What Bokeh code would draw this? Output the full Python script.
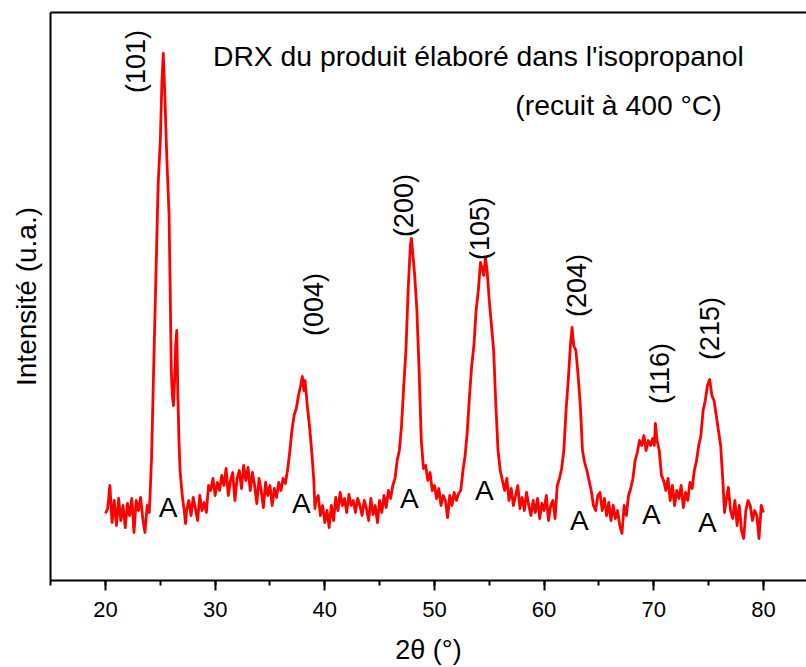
import numpy as np
from bokeh.plotting import figure
from bokeh.models import Range1d, LinearAxis, FixedTicker, SingleIntervalTicker
from bokeh.core.properties import value
from bokeh.embed import file_html
from bokeh.resources import INLINE

# ---- data (2theta in degrees, intensity in arbitrary units) ----
two_theta = [
    20.0, 20.2, 20.4, 20.6, 20.8, 21.0, 21.2, 21.4, 21.6, 21.8, 22.0, 22.2, 22.4, 22.6, 22.8,
    23.0, 23.2, 23.4, 23.6, 23.8, 24.0, 24.2, 24.4, 24.6, 24.8, 25.0, 25.15, 25.27, 25.4, 25.6,
    25.8, 25.9, 26.0, 26.1, 26.2, 26.3, 26.4, 26.5, 26.6, 26.7, 26.8, 27.0, 27.2, 27.3, 27.4,
    27.6, 27.8, 28.0, 28.2, 28.4, 28.6, 28.8, 29.0, 29.2, 29.4, 29.6, 29.8, 30.0, 30.2, 30.4,
    30.6, 30.8, 31.0, 31.2, 31.4, 31.6, 31.8, 32.0, 32.2, 32.4, 32.6, 32.8, 33.0, 33.2, 33.4,
    33.6, 33.8, 34.0, 34.2, 34.4, 34.6, 34.8, 35.0, 35.2, 35.4, 35.6, 35.8, 36.0, 36.2, 36.4,
    36.6, 36.8, 37.0, 37.2, 37.4, 37.6, 37.8, 37.95, 38.1, 38.2, 38.4, 38.6, 38.8, 39.0, 39.1,
    39.2, 39.4, 39.6, 39.8, 40.0, 40.2, 40.4, 40.6, 40.8, 41.0, 41.2, 41.4, 41.6, 41.8, 42.0,
    42.2, 42.4, 42.6, 42.8, 43.0, 43.2, 43.4, 43.6, 43.8, 44.0, 44.2, 44.4, 44.6, 44.8, 45.0,
    45.2, 45.4, 45.6, 45.8, 46.0, 46.2, 46.4, 46.6, 46.8, 47.0, 47.2, 47.4, 47.6, 47.8, 47.9,
    48.0, 48.2, 48.4, 48.6, 48.8, 49.0, 49.2, 49.4, 49.6, 49.8, 50.0, 50.2, 50.4, 50.6, 50.8,
    51.0, 51.2, 51.4, 51.6, 51.8, 52.0, 52.2, 52.4, 52.6, 52.8, 53.0, 53.2, 53.4, 53.6, 53.8,
    54.0, 54.2, 54.4, 54.5, 54.65, 54.8, 55.0, 55.2, 55.4, 55.6, 55.8, 56.0, 56.2, 56.4, 56.6,
    56.8, 57.0, 57.2, 57.4, 57.6, 57.8, 58.0, 58.2, 58.4, 58.6, 58.8, 59.0, 59.2, 59.4, 59.6,
    59.8, 60.0, 60.2, 60.4, 60.6, 60.8, 61.0, 61.2, 61.4, 61.6, 61.8, 62.0, 62.2, 62.4, 62.55,
    62.7, 62.9, 63.1, 63.3, 63.5, 63.7, 63.9, 64.1, 64.3, 64.5, 64.7, 64.9, 65.1, 65.3, 65.5,
    65.7, 65.9, 66.1, 66.3, 66.5, 66.7, 66.9, 67.1, 67.3, 67.5, 67.7, 67.9, 68.1, 68.3, 68.5,
    68.7, 68.9, 69.1, 69.3, 69.5, 69.7, 69.9, 70.05, 70.15, 70.3, 70.5, 70.7, 70.9, 71.1, 71.3,
    71.5, 71.7, 71.9, 72.1, 72.3, 72.5, 72.7, 72.9, 73.1, 73.3, 73.5, 73.7, 73.9, 74.1, 74.3,
    74.5, 74.7, 74.9, 75.1, 75.3, 75.5, 75.7, 75.9, 76.1, 76.3, 76.45, 76.6, 76.8, 77.0, 77.2,
    77.4, 77.6, 77.8, 78.0, 78.2, 78.4, 78.6, 78.8, 79.0, 79.2, 79.4, 79.6, 79.8, 80.0,
]
intensity = [
    67, 72, 95, 58, 80, 55, 82, 60, 75, 53, 77, 65, 82, 48, 80,
    70, 83, 62, 48, 75, 68, 122, 215, 305, 395, 440, 500, 527, 490, 420,
    365, 290, 210, 185, 175, 200, 235, 250, 185, 140, 110, 85, 68, 57, 70,
    80, 65, 83, 72, 60, 85, 70, 78, 68, 95, 90, 102, 85, 98, 90,
    105, 95, 112, 85, 100, 108, 80, 102, 110, 92, 115, 100, 113, 90, 108,
    95, 77, 102, 90, 73, 98, 85, 95, 75, 92, 83, 98, 90, 102, 97,
    110, 128, 150, 165, 172, 185, 195, 204, 190, 200, 175, 155, 130, 100, 72,
    80, 85, 65, 75, 58, 70, 53, 75, 60, 83, 70, 88, 75, 82, 68,
    86, 75, 80, 68, 82, 75, 65, 80, 72, 60, 82, 66, 75, 58, 80,
    68, 85, 73, 90, 82, 95, 102, 120, 130, 155, 195, 230, 290, 335, 342,
    330, 305, 270, 210, 140, 112, 115, 100, 108, 90, 95, 82, 92, 75, 85,
    80, 63, 85, 75, 88, 80, 87, 90, 110, 125, 150, 185, 215, 235, 270,
    290, 318, 310, 305, 323, 310, 280, 255, 230, 175, 130, 110, 100, 90, 102,
    80, 92, 75, 85, 95, 72, 83, 70, 88, 75, 65, 80, 68, 82, 62,
    77, 70, 85, 60, 75, 80, 62, 95, 102, 112, 130, 170, 200, 235, 253,
    235, 230, 205, 175, 130, 118, 110, 100, 90, 75, 70, 85, 88, 70, 82,
    65, 78, 60, 75, 62, 70, 55, 47, 75, 65, 85, 92, 102, 120, 128,
    140, 135, 145, 130, 140, 135, 142, 135, 157, 140, 130, 105, 100, 90, 102,
    80, 95, 75, 90, 82, 95, 73, 88, 80, 98, 92, 110, 120, 135, 145,
    170, 180, 195, 201, 185, 180, 165, 150, 135, 100, 68, 80, 93, 70, 62,
    80, 55, 75, 50, 42, 70, 80, 75, 60, 70, 65, 42, 75, 68,
]

x_tick_values = [20, 30, 40, 50, 60, 70, 80]

peak_hkl = ["(101)", "(004)", "(200)", "(105)", "(204)", "(116)", "(215)"]
peak_label_x = [22.80, 38.97, 47.26, 54.19, 63.04, 70.61, 75.17]
peak_label_y = [519, 276, 375, 352, 295, 207, 252]

anatase_text = ["A", "A", "A", "A", "A", "A", "A"]
anatase_x = [25.70, 37.87, 47.72, 54.56, 63.22, 69.79, 74.89]
anatase_y = [73, 77, 82, 90, 60, 66, 58]

title_lines = ["DRX du produit élaboré dans l'isopropanol", "(recuit à 400 °C)"]
title_x = [29.80, 57.38]
title_y = [525, 476]

FONT = "Liberation Sans"

p = figure(width=806, height=667,
           x_range=Range1d(14.985, 83.93), y_range=Range1d(0, 568),
           output_backend="svg", toolbar_location=None,
           min_border_left=50, min_border_right=0, min_border_top=12, min_border_bottom=87,
           x_axis_label="2θ (°)", y_axis_label="Intensité (u.a.)")
p.grid.visible = False
p.outline_line_color = None
p.background_fill_color = "white"
p.border_fill_color = "white"

p.line(two_theta, intensity, line_color="#ff0000", line_width=2.8, line_join="round")

# bottom axis
xa = p.xaxis[0]
xa.ticker = SingleIntervalTicker(interval=10, num_minor_ticks=2)
xa.axis_line_width = 2
xa.axis_line_color = "black"
xa.major_tick_line_width = 2
xa.minor_tick_line_width = 2
xa.major_tick_line_color = "black"
xa.minor_tick_line_color = "black"
xa.major_tick_in = 0
xa.major_tick_out = 10
xa.minor_tick_in = 0
xa.minor_tick_out = 5
xa.major_label_text_font = FONT
xa.major_label_text_font_size = "22px"
xa.major_label_text_color = "black"
xa.major_label_standoff = 11
xa.axis_label_text_font = FONT
xa.axis_label_text_font_size = "27px"
xa.axis_label_text_font_style = "normal"
xa.axis_label_text_color = "black"
xa.axis_label_standoff = 15

# left axis: line only
ya = p.yaxis[0]
ya.ticker = FixedTicker(ticks=[])
ya.axis_line_width = 2
ya.axis_line_color = "black"
ya.major_tick_out = 0
ya.major_tick_in = 0
ya.minor_tick_out = 0
ya.major_label_standoff = 0
ya.axis_label_text_font = FONT
ya.axis_label_text_font_size = "28px"
ya.axis_label_text_font_style = "normal"
ya.axis_label_text_color = "black"
ya.axis_label_standoff = 9

# top frame line
top = LinearAxis(ticker=FixedTicker(ticks=[]))
top.axis_line_width = 2
top.axis_line_color = "black"
top.major_tick_in = 0
top.major_tick_out = 0
top.minor_tick_out = 0
top.major_label_standoff = 0
p.add_layout(top, "above")

# annotations
p.text(x=peak_label_x, y=peak_label_y, text=peak_hkl, angle=np.pi / 2,
       text_align="center", text_baseline="middle",
       text_font=value(FONT), text_font_size=value("27px"), text_color="black")
p.text(x=anatase_x, y=anatase_y, text=anatase_text,
       text_align="center", text_baseline="alphabetic",
       text_font=value(FONT), text_font_size=value("28px"), text_color="black")
p.text(x=title_x, y=title_y, text=title_lines,
       text_align="left", text_baseline="alphabetic",
       text_font=value(FONT), text_font_size=value("28.3px"), text_color="black")

open("out.html", "w").write(file_html(p, INLINE))
